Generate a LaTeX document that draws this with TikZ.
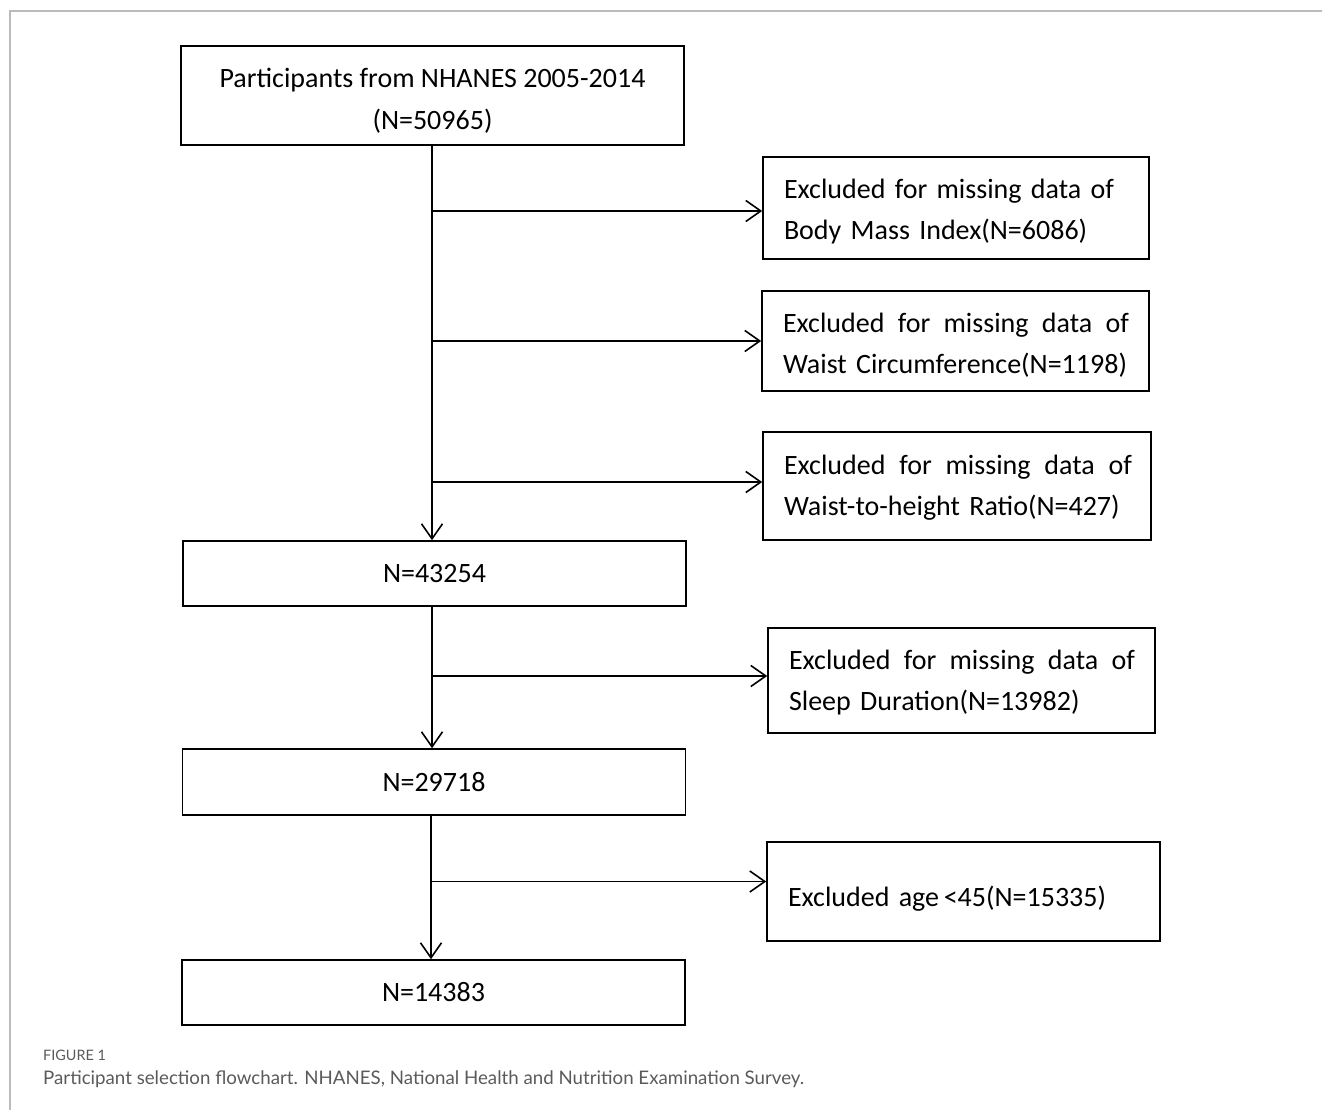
\documentclass[tikz,border=0pt]{standalone}
\usepackage{fontspec}
\setmainfont{Carlito}
\newfontfamily\capfont{Lato}
\usetikzlibrary{arrows.meta}
\definecolor{framegray}{HTML}{BBBBBB}
\definecolor{capgray}{HTML}{5A5A5A}
\tikzset{
  box/.style={draw, line width=1.6pt, inner sep=0pt, minimum width=#1},
  mainbox/.style={box=503pt, font=\fontsize{28}{42}\selectfont, align=center},
  exbox/.style={box=#1, font=\fontsize{28}{41}\selectfont, align=left, text width=#1-42pt, text height=22pt},
  conn/.style={line width=1.6pt, -{Straight Barb[length=15pt,width=21pt,line width=1.6pt]}},
}
\begin{document}
\begin{tikzpicture}[x=1pt,y=-1pt]
\useasboundingbox (0,0) rectangle (1322,1110);
% frame
\draw[framegray, line width=1.8pt] (1322,11) -- (10,11) -- (10,1110);
% boxes
\node[mainbox, minimum height=99pt, text height=73pt, text depth=5pt] (top) at (432.5,95.5) {Participants from NHANES 2005-2014\\(N=50965)};
\node[exbox=386pt, minimum height=102pt, text depth=41pt] (b1) at (956,208) {Excluded for missing data of\\Body Mass Index(N=6086)};
\node[exbox=387pt, minimum height=100pt, text depth=39pt] (b2) at (955.5,341) {\hbox to 346pt{Excluded\hfill for\hfill missing\hfill data\hfill of}\\Waist Circumference(N=1198)};
\node[exbox=388pt, minimum height=108pt, text depth=45pt] (b3) at (957,486) {\hbox to 348pt{Excluded\hfill for\hfill missing\hfill data\hfill of}\\Waist-to-height Ratio(N=427)};
\node[mainbox, minimum height=65pt] (n1) at (434.5,573.5) {N=43254};
\node[exbox=387pt, minimum height=105pt, text depth=44pt] (b4) at (961.5,680.5) {\hbox to 346pt{Excluded\hfill for\hfill missing\hfill data\hfill of}\\Sleep Duration(N=13982)};
\node[mainbox, minimum height=66pt] (n2) at (434,782) {N=29718};
\node[exbox=393pt, minimum height=99pt, text height=32pt, text depth=2pt] (b5) at (963.5,891.5) {Excluded age\,<45(N=15335)};
\node[mainbox, minimum height=65pt] (n3) at (433.5,992.5) {N=14383};
% branch end points on the left sides of the exclusion boxes
\coordinate (e1) at ([yshift=-3pt]b1.west);
\coordinate (e2) at (b2.west);
\coordinate (e3) at ([yshift=4pt]b3.west);
\coordinate (e4) at ([yshift=4.5pt]b4.west);
\coordinate (e5) at ([yshift=10pt]b5.west);
% connectors
\coordinate (s1) at (432,0);
\draw[conn] (top.south -| s1) -- (n1.north -| s1);
\draw[conn] (s1 |- e1) -- (e1);
\draw[conn] (s1 |- e2) -- (e2);
\draw[conn] (s1 |- e3) -- (e3);
\draw[conn] (n1.south -| s1) -- (n2.north -| s1);
\draw[conn] (s1 |- e4) -- (e4);
\coordinate (s2) at (431,0);
\draw[conn] (n2.south -| s2) -- (n3.north -| s2);
\draw[conn] (s2 |- e5) -- (e5);
% caption
\node[anchor=west, inner sep=0pt, text=capgray, font=\capfont\fontsize{14.4}{16}\selectfont] (fig) at (43,1055) {FIGURE 1};
\node[anchor=west, inner sep=0pt, text=capgray, font=\capfont\fontsize{18.7}{21}\selectfont] (cap) at (43,1079) {Participant selection flowchart. NHANES, National Health and Nutrition Examination Survey.};
\end{tikzpicture}
\end{document}
